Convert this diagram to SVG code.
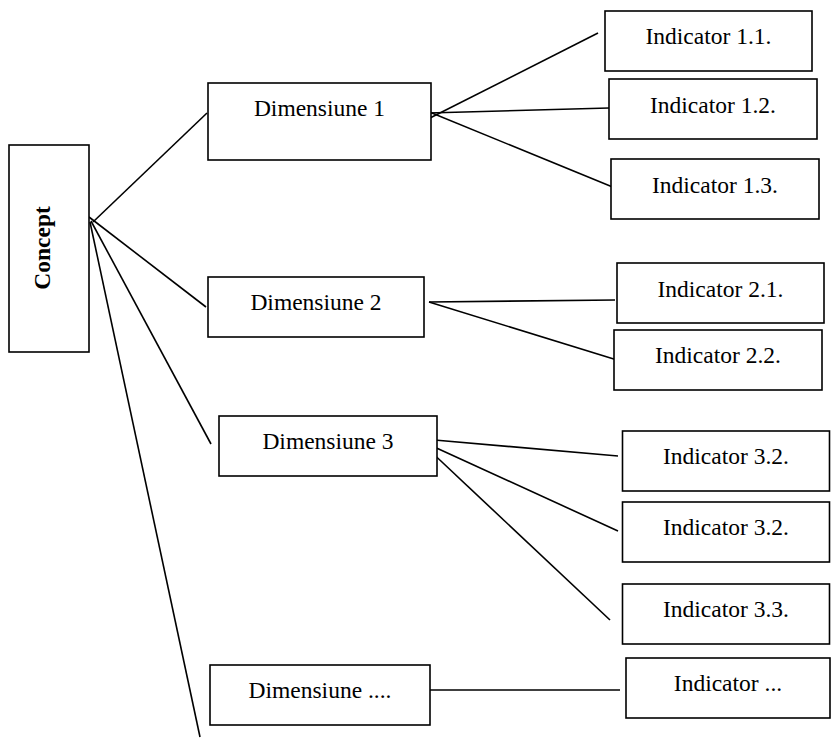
<svg xmlns="http://www.w3.org/2000/svg" width="831" height="738" viewBox="0 0 831 738">
<style>
.box{fill:#fff;stroke:#000;stroke-width:1.6}
.t{font-family:"Liberation Serif","Times New Roman",serif;font-size:23.5px;fill:#000;text-anchor:middle}
.b{font-weight:bold}
#connectors line{stroke:#000;stroke-width:1.6;fill:none}
</style>
<rect width="831" height="738" fill="#fff"/>
<g id="connectors">
<line x1="93" y1="222" x2="207" y2="113"/>
<line x1="89" y1="217" x2="206" y2="307"/>
<line x1="91" y1="221" x2="211" y2="444"/>
<line x1="90" y1="222" x2="200" y2="737"/>
<line x1="430" y1="118" x2="598" y2="33"/>
<line x1="428" y1="113" x2="609" y2="108"/>
<line x1="427" y1="111" x2="615" y2="188"/>
<line x1="429" y1="302" x2="615" y2="300"/>
<line x1="429" y1="302" x2="617" y2="360"/>
<line x1="434.5" y1="440" x2="618" y2="456"/>
<line x1="436.5" y1="448" x2="618" y2="531"/>
<line x1="434.5" y1="455" x2="610" y2="620"/>
<line x1="428" y1="690" x2="620" y2="690"/>
</g>
<g id="concept"><rect class="box" x="9" y="145" width="80" height="207"/><text class="t b" transform="translate(50,248) rotate(-90)">Concept</text></g>
<g id="dim1"><rect class="box" x="208" y="83" width="223" height="77"/><text class="t" x="319.5" y="116">Dimensiune 1</text></g>
<g id="dim2"><rect class="box" x="208" y="277" width="216" height="60"/><text class="t" x="316" y="310">Dimensiune 2</text></g>
<g id="dim3"><rect class="box" x="219" y="416" width="218" height="60"/><text class="t" x="328" y="449">Dimensiune 3</text></g>
<g id="dimN"><rect class="box" x="210" y="665" width="220" height="60"/><text class="t" x="320" y="698">Dimensiune ....</text></g>
<g id="ind11"><rect class="box" x="605" y="11" width="207" height="60"/><text class="t" x="708.5" y="44">Indicator 1.1.</text></g>
<g id="ind12"><rect class="box" x="609" y="79" width="208" height="60"/><text class="t" x="713" y="113">Indicator 1.2.</text></g>
<g id="ind13"><rect class="box" x="611" y="159" width="208" height="60"/><text class="t" x="715" y="193">Indicator 1.3.</text></g>
<g id="ind21"><rect class="box" x="617" y="263" width="207" height="60"/><text class="t" x="720.5" y="297">Indicator 2.1.</text></g>
<g id="ind22"><rect class="box" x="614" y="330" width="208" height="60"/><text class="t" x="718" y="363">Indicator 2.2.</text></g>
<g id="ind32a"><rect class="box" x="622.5" y="431" width="207" height="60"/><text class="t" x="726" y="464">Indicator 3.2.</text></g>
<g id="ind32b"><rect class="box" x="622.5" y="502" width="207" height="60"/><text class="t" x="726" y="535">Indicator 3.2.</text></g>
<g id="ind33"><rect class="box" x="622.5" y="584" width="207" height="60"/><text class="t" x="726" y="617">Indicator 3.3.</text></g>
<g id="indN"><rect class="box" x="626" y="658" width="204" height="60"/><text class="t" x="728" y="691">Indicator ...</text></g>
</svg>
